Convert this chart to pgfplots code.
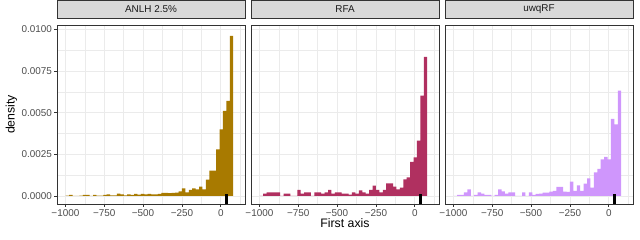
\documentclass[border=0pt]{standalone}
\usepackage{pgfplots}
\pgfplotsset{compat=1.18}
\usepackage{pgfplotstable}
\usepackage{fontspec}
\setmainfont{Liberation Sans}
\definecolor{cA}{HTML}{A87A00}
\definecolor{cB}{HTML}{B03060}
\definecolor{cC}{HTML}{CF96FC}
\definecolor{grey20}{HTML}{333333}
\definecolor{grey30}{HTML}{4D4D4D}
\definecolor{grey85}{HTML}{D9D9D9}
\definecolor{grey92}{HTML}{EBEBEB}
\definecolor{grey10}{HTML}{1A1A1A}

\pgfplotstableread{
x y
-998 0.00002
-976 0.00006
-954 0
-932 0
-910 0.00002
-888 0.00006
-866 0.00006
-844 0
-822 0.00006
-800 0.00002
-778 0.00002
-756 0.00006
-734 0.0001
-712 0.00004
-690 0.00004
-668 0.00014
-646 0.0001
-624 0.00004
-602 0.0001
-580 0.00006
-558 0.00012
-536 0.00008
-514 0.00012
-492 0.0001
-470 0.00012
-448 0.0001
-426 0.0001
-404 0.00013
-382 0.00019
-360 0.00019
-338 0.00017
-316 0.00019
-294 0.0002
-272 0.00028
-250 0.00046
-228 0.00022
-206 0.00036
-184 0.00046
-162 0.0004
-140 0.00056
-118 0.0004
-96 0.00098
-74 0.00152
-52 0.00152
-30 0.0028
-8 0.0040
14 0.0051
36 0.0057
58 0.0096
80 0
}\dataA

\pgfplotstableread{
x y
-998 0
-976 0.00014
-954 0.00022
-932 0.00022
-910 0.00022
-888 0.00022
-866 0
-844 0.00014
-822 0.00014
-800 0
-778 0
-756 0.00036
-734 0.00014
-712 0.00022
-690 0.00022
-668 0
-646 0.00022
-624 0.00022
-602 0.00014
-580 0.00022
-558 0.00036
-536 0.00014
-514 0.00022
-492 0.00022
-470 0.00014
-448 0.00014
-426 0.00008
-404 0.00022
-382 0.00014
-360 0.00034
-338 0.00022
-316 0.00014
-294 0.00036
-272 0.00062
-250 0.00036
-228 0.00022
-206 0.00036
-184 0.00076
-162 0.00076
-140 0.00056
-118 0.0004
-96 0.0005
-74 0.001
-52 0.00112
-30 0.00204
-8 0.00232
14 0.00332
36 0.00602
58 0.00834
80 0
}\dataB

\pgfplotstableread{
x y
-998 0
-976 0.00006
-954 0.00006
-932 0.00022
-910 0.0004
-888 0
-866 0.00006
-844 0.00022
-822 0.00014
-800 0.00006
-778 0.00006
-756 0
-734 0.00006
-712 0.0004
-690 0.00028
-668 0.00014
-646 0.00022
-624 0.00022
-602 0
-580 0
-558 0.00022
-536 0
-514 0.00022
-492 0.00006
-470 0.00012
-448 0.00014
-426 0.0002
-404 0.0002
-382 0.00026
-360 0.0003
-338 0.00054
-316 0.00054
-294 0.00026
-272 0.00024
-250 0.00086
-228 0.0003
-206 0.00064
-184 0.0003
-162 0.00074
-140 0.00106
-118 0.0005
-96 0.00142
-74 0.00162
-52 0.0022
-30 0.00234
-8 0.0022
14 0.00462
36 0.0043
58 0.00632
80 0
}\dataC

\pgfplotsset{panel/.style={
  scale only axis, width=188bp, height=179bp, anchor=south west,
  xmin=-1054, xmax=156, ymin=-0.00048, ymax=0.01026,
  xtick={-1000,-750,-500,-250,0},
  xticklabels={−1000,−750,−500,−250,0},
  ytick={0,0.0025,0.005,0.0075,0.01},
  minor xtick={-875,-625,-375,-125,125},
  minor ytick={0.00125,0.00375,0.00625,0.00875},
  grid=both,
  major grid style={draw=grey92, line width=0.8bp},
  minor grid style={draw=grey92, line width=0.45bp},
  axis line style={draw=grey20, line width=0.8bp},
  tick align=outside, xtick pos=bottom, ytick pos=left,
  major tick length=2.75bp, minor tick length=0pt,
  tick style={draw=grey20, line width=0.6bp},
  ticklabel style={font=\fontsize{9.9bp}{11bp}\selectfont, text=grey30, inner sep=0pt},
  xticklabel style={yshift=-2.2bp},
  yticklabel style={xshift=-2.2bp},
  scaled y ticks=false,
  title style={at={(axis description cs:0.5,1)}, anchor=south, fill=grey85, draw=grey20, line width=0.6bp, minimum width=188bp, minimum height=18.3bp, inner sep=0pt, font=\fontsize{9.9bp}{11bp}\selectfont, text=grey10},
  label style={font=\fontsize{12.3bp}{14bp}\selectfont, text=black},
}}

\begin{document}
\begin{tikzpicture}
\useasboundingbox (0,0) rectangle (640bp,240bp);
\begin{axis}[panel, at={(57bp,36bp)}, title={ANLH 2.5\%},
  yticklabels={0.0000,0.0025,0.0050,0.0075,0.0100},
  ylabel={density},
  ylabel style={at={(axis description cs:-0.242,0.5)}, anchor=center}]
\addplot[ybar interval, fill=cA, draw=none] table[x=x,y=y] {\dataA};
\addplot[draw=black, line width=3bp] coordinates {(40,-0.00048) (40,0.00013)};
\end{axis}
\begin{axis}[panel, at={(251bp,36bp)}, title={RFA},
  yticklabels={}, ytick style={draw=none},
  xlabel={First axis},
  xlabel style={at={(axis description cs:0.5,-0.109)}, anchor=center}]
\addplot[ybar interval, fill=cB, draw=none] table[x=x,y=y] {\dataB};
\addplot[draw=black, line width=3bp] coordinates {(40,-0.00048) (40,0.00013)};
\end{axis}
\begin{axis}[panel, at={(445bp,36bp)}, title={uwqRF},
  yticklabels={}, ytick style={draw=none}]
\addplot[ybar interval, fill=cC, draw=none] table[x=x,y=y] {\dataC};
\addplot[draw=black, line width=3bp] coordinates {(40,-0.00048) (40,0.00013)};
\end{axis}
\end{tikzpicture}
\end{document}
